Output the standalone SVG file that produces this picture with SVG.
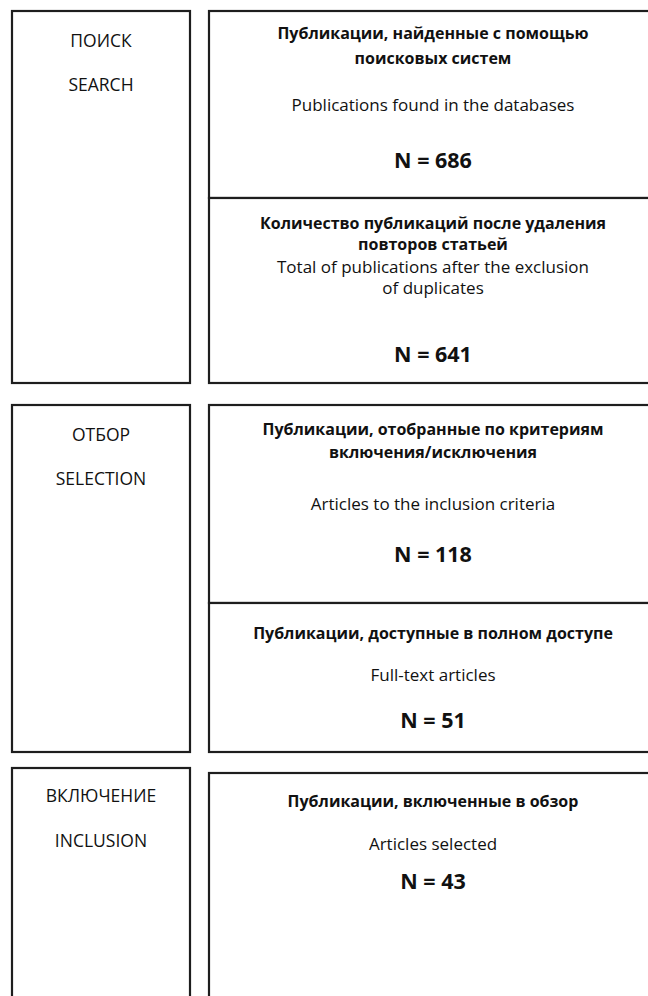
<svg xmlns="http://www.w3.org/2000/svg" width="648" height="996" viewBox="0 0 648 996">
<style>
.box{fill:#ffffff;stroke:#1e1e1e;stroke-width:2.2}
.t{font-family:"Open Sans","Noto Sans","DejaVu Sans",sans-serif;fill:#111111;text-anchor:middle}
.lab{font-size:17.5px}
.reg{font-size:17px}
.hd{font-size:16px;font-weight:bold}
.n{font-size:21.5px;font-weight:bold}
</style>
<rect width="648" height="996" fill="#ffffff"/>
<g id="connectors"></g>

<g id="stage-search">
<rect class="box" x="12" y="11" width="178" height="372"/>
<text class="t lab" x="101" y="47">ПОИСК</text>
<text class="t lab" x="101" y="91">SEARCH</text>
</g>
<g id="found">
<rect class="box" x="209" y="11" width="460" height="187"/>
<text class="t hd" x="433" y="39">Публикации, найденные с помощью</text>
<text class="t hd" x="433" y="64">поисковых систем</text>
<text class="t reg" x="433" y="111">Publications found in the databases</text>
<text class="t n" x="433" y="168">N = 686</text>
</g>
<g id="deduplicated">
<rect class="box" x="209" y="198" width="460" height="185"/>
<text class="t hd" x="433" y="229">Количество публикаций после удаления</text>
<text class="t hd" x="433" y="250">повторов статьей</text>
<text class="t reg" x="433" y="273">Total of publications after the exclusion</text>
<text class="t reg" x="433" y="294">of duplicates</text>
<text class="t n" x="433" y="362">N = 641</text>
</g>

<g id="stage-selection">
<rect class="box" x="12" y="405" width="178" height="347"/>
<text class="t lab" x="101" y="441">ОТБОР</text>
<text class="t lab" x="101" y="485">SELECTION</text>
</g>
<g id="screened">
<rect class="box" x="209" y="405" width="460" height="198"/>
<text class="t hd" x="433" y="435">Публикации, отобранные по критериям</text>
<text class="t hd" x="433" y="458">включения/исключения</text>
<text class="t reg" x="433" y="510">Articles to the inclusion criteria</text>
<text class="t n" x="433" y="562">N = 118</text>
</g>
<g id="fulltext">
<rect class="box" x="209" y="603" width="460" height="149"/>
<text class="t hd" x="433" y="639">Публикации, доступные в полном доступе</text>
<text class="t reg" x="433" y="681">Full-text articles</text>
<text class="t n" x="433" y="728">N = 51</text>
</g>

<g id="stage-inclusion">
<rect class="box" x="12" y="768" width="178" height="250"/>
<text class="t lab" x="101" y="802">ВКЛЮЧЕНИЕ</text>
<text class="t lab" x="101" y="847">INCLUSION</text>
</g>
<g id="included">
<rect class="box" x="209" y="773" width="460" height="245"/>
<text class="t hd" x="433" y="807">Публикации, включенные в обзор</text>
<text class="t reg" x="433" y="850">Articles selected</text>
<text class="t n" x="433" y="889">N = 43</text>
</g>
</svg>
